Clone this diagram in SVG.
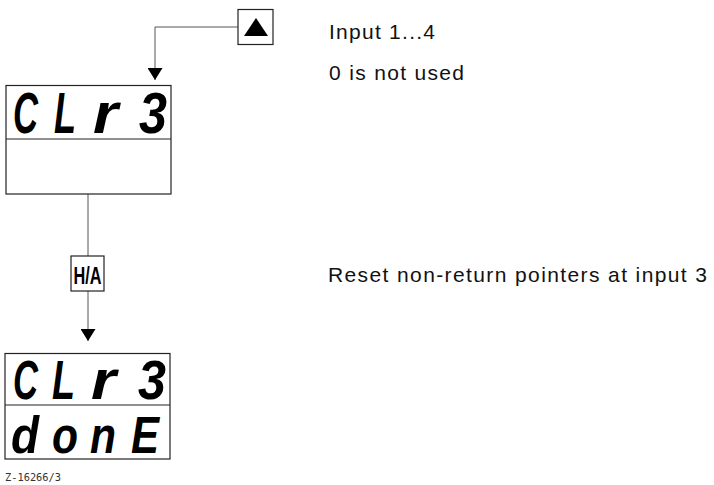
<svg xmlns="http://www.w3.org/2000/svg" width="714" height="485" viewBox="0 0 714 485">
  <style>
    .box { fill: #fff; stroke: #222; stroke-width: 1.2; }
    .wire { fill: none; stroke: #555; stroke-width: 1; }
    .seg { font-family: "Liberation Sans", "DejaVu Sans", sans-serif; font-weight: bold; font-style: italic; fill: #000; }
    .note { font-family: "Liberation Sans", Arial, sans-serif; font-size: 21px; fill: #111; }
    .key { font-family: "Liberation Sans", Arial, sans-serif; font-weight: bold; font-size: 23px; fill: #000; }
    .ref { font-family: "DejaVu Sans Mono", "Liberation Mono", monospace; font-size: 10px; fill: #333; }
  </style>
  <defs>
    <marker id="arrow" viewBox="0 0 12 15" refX="12" refY="7.5" markerWidth="12" markerHeight="15" markerUnits="userSpaceOnUse" orient="auto">
      <path d="M0,0 L12,7.5 L0,15 Z" fill="#000"/>
    </marker>
  </defs>

  <rect width="714" height="485" fill="#fff"/>

  <!-- connectors -->
  <g id="connectors">
    <path class="wire" d="M238,27 H155 V80" marker-end="url(#arrow)"/>
    <path class="wire" d="M88,194 V256"/>
    <path class="wire" d="M88,291 V341" marker-end="url(#arrow)"/>
  </g>

  <!-- up key -->
  <g id="key-up">
    <rect class="box" x="238" y="9.5" width="35" height="35"/>
    <polygon points="256,18 244,36 268,36" fill="#000"/>
  </g>

  <!-- display before reset -->
  <g id="display-clr3">
    <rect class="box" x="6" y="85.5" width="165" height="108.5"/>
    <line class="box" x1="6" y1="139" x2="171" y2="139"/>
    <text class="seg" font-size="57" x="13" y="133" textLength="25" lengthAdjust="spacingAndGlyphs">C</text>
    <text class="seg" font-size="57" x="54" y="133" textLength="22" lengthAdjust="spacingAndGlyphs">L</text>
    <text class="seg" font-size="57" x="93" y="133" textLength="25" lengthAdjust="spacingAndGlyphs">r</text>
    <text class="seg" font-size="57" x="139" y="133" textLength="28" lengthAdjust="spacingAndGlyphs">3</text>
  </g>

  <!-- H/A key -->
  <g id="key-ha">
    <rect class="box" x="71" y="256" width="33" height="35"/>
    <text class="key" x="73.5" y="284" textLength="28" lengthAdjust="spacingAndGlyphs">H/A</text>
  </g>

  <!-- display after reset -->
  <g id="display-done">
    <rect class="box" x="5" y="353.5" width="165" height="105.5"/>
    <line class="box" x1="5" y1="405" x2="170" y2="405"/>
    <text class="seg" font-size="55" x="13" y="399" textLength="25" lengthAdjust="spacingAndGlyphs">C</text>
    <text class="seg" font-size="55" x="52" y="399" textLength="23" lengthAdjust="spacingAndGlyphs">L</text>
    <text class="seg" font-size="55" x="91" y="399" textLength="25" lengthAdjust="spacingAndGlyphs">r</text>
    <text class="seg" font-size="55" x="138" y="399" textLength="28" lengthAdjust="spacingAndGlyphs">3</text>
    <text class="seg" font-size="52" x="11" y="453" textLength="28" lengthAdjust="spacingAndGlyphs">d</text>
    <text class="seg" font-size="52" x="52" y="453" textLength="26" lengthAdjust="spacingAndGlyphs">o</text>
    <text class="seg" font-size="52" x="90" y="453" textLength="26" lengthAdjust="spacingAndGlyphs">n</text>
    <text class="seg" font-size="52" x="131" y="453" textLength="28" lengthAdjust="spacingAndGlyphs">E</text>
  </g>

  <!-- notes -->
  <g id="notes">
    <text class="note" x="329" y="39" textLength="106" lengthAdjust="spacing">Input 1...4</text>
    <text class="note" x="329" y="80" textLength="135" lengthAdjust="spacing">0 is not used</text>
    <text class="note" x="328" y="282" textLength="379" lengthAdjust="spacing">Reset non-return pointers at input 3</text>
  </g>

  <text class="ref" x="5" y="481" textLength="56" lengthAdjust="spacingAndGlyphs">Z-16266/3</text>
</svg>
